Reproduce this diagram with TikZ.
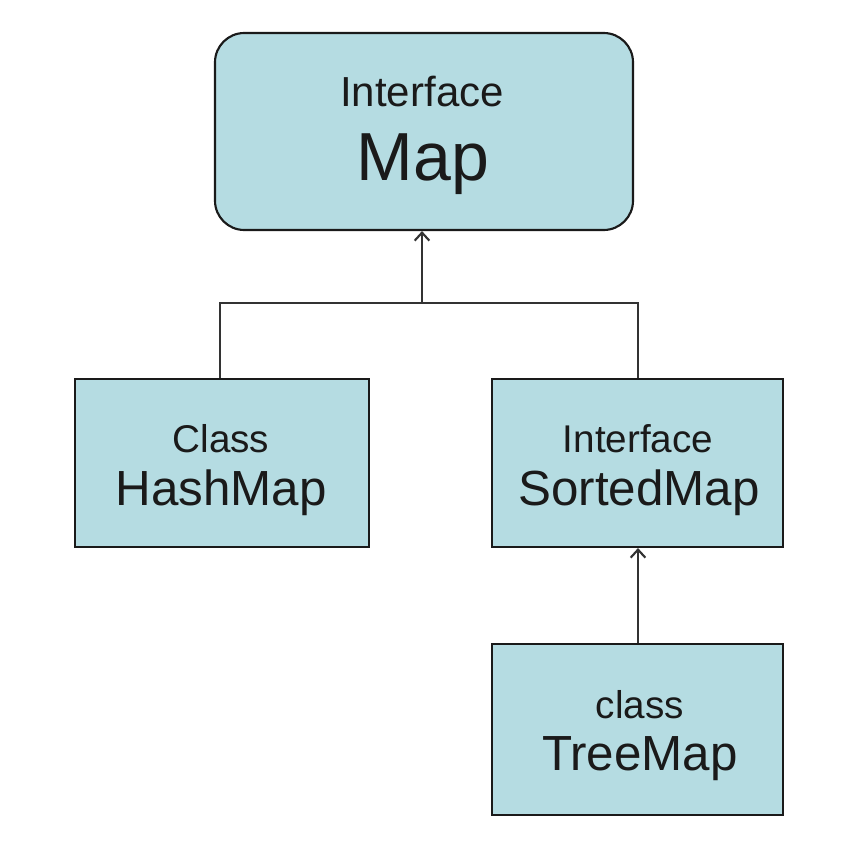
\documentclass[tikz,border=0pt]{standalone}
\usepackage{fontspec}
\setmainfont{Liberation Sans}
\usetikzlibrary{arrows.meta}
\definecolor{boxfill}{HTML}{B5DCE2}
\definecolor{ink}{HTML}{1A1A1A}
\definecolor{linec}{HTML}{333333}
\tikzset{
  box/.style={draw=ink, line width=1.6pt, fill=boxfill, inner sep=0pt},
  small/.style={anchor=base, text=ink, font=\fontsize{29}{30}\selectfont, inner sep=0pt},
  big/.style={anchor=base, text=ink, font=\fontsize{37}{38}\selectfont, inner sep=0pt},
  conn/.style={draw=linec, line width=1.6pt},
  arr/.style={conn, -{Straight Barb[length=6pt, width=11pt, line width=1.6pt]}}
}
\begin{document}
\begin{tikzpicture}[x=0.75pt, y=-0.75pt]
\useasboundingbox (0,0) rectangle (862,867);
% boxes
\node[box, rounded corners=22pt, minimum width=418*0.75pt, minimum height=197*0.75pt] (map) at (424,131.5) {};
\node[box, minimum width=294*0.75pt, minimum height=168*0.75pt] (hash) at (222,463) {};
\node[box, minimum width=291*0.75pt, minimum height=168*0.75pt] (sorted) at (637.5,463) {};
\node[box, minimum width=291*0.75pt, minimum height=171*0.75pt] (tree) at (637.5,729.5) {};
% texts
\node[small, font=\fontsize{31.5}{32}\selectfont] (t1) at (422,107) {Interface};
\node[big, font=\fontsize{51}{52}\selectfont] (t2) at (423,180) {Map};
\node[small] (t3) at (221,452) {Class};
\node[big] (t4) at (221,505) {HashMap};
\node[small] (t5) at (638,452) {Interface};
\node[big] (t6) at (639,505) {SortedMap};
\node[small] (t7) at (640,718) {class};
\node[big] (t8) at (640,770) {TreeMap};
% connectors
\coordinate (j) at (422,303);
\draw[arr] (j) -- (j |- map.south);
\draw[conn] (220,303 |- hash.north) -- (220,303) -- (638,303) -- (638,303 |- sorted.north);
\draw[arr] (638,303 |- tree.north) -- (638,303 |- sorted.south);
\end{tikzpicture}
\end{document}
